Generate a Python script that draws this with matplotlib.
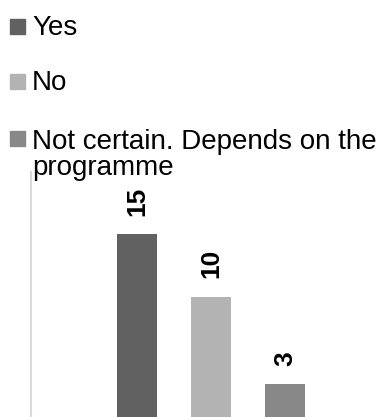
import matplotlib
matplotlib.use("Agg")
import matplotlib.pyplot as plt
from matplotlib.patches import Rectangle

categories = ["Yes", "No", "Not certain. Depends on the\nprogramme"]
values = [15, 10, 3]
colors = ["#616161", "#b3b3b3", "#888888"]

plt.rcParams["font.family"] = ["Liberation Sans", "DejaVu Sans"]

W, H = 389, 417
fig = plt.figure(figsize=(W / 100, H / 100), dpi=100)

# plot area in pixel units (top-left origin)
left_px, right_px, top_px, bottom_px = 31, 391, 172, 421
ax = fig.add_axes([left_px / W, 1 - bottom_px / H,
                   (right_px - left_px) / W, (bottom_px - top_px) / H])

positions = [-1, 0, 1]
bars = ax.bar(positions, values, width=0.54, color=colors, zorder=2)
ax.set_ylim(0, 20)
ax.set_xlim(-2.43, 2.43)

for b, v in zip(bars, values):
    ax.annotate(str(v), (b.get_x() + b.get_width() / 2, b.get_height()),
                xytext=(0, 18), textcoords="offset pixels",
                rotation=90, ha="center", va="bottom",
                fontsize=19, fontweight="bold", color="black")

for s in ["top", "right", "bottom"]:
    ax.spines[s].set_visible(False)
ax.spines["left"].set_color("#d9d9d9")
ax.spines["left"].set_linewidth(1.5)
ax.set_xticks([])
ax.set_yticks([])

# legend rows drawn at the top of the figure
baselines = [35, 90, 147]
line_gap = 28
for lab, col, base in zip(categories, colors, baselines):
    fig.patches.append(Rectangle((10 / W, 1 - (base - 1) / H), 15 / W, 15 / H,
                                 transform=fig.transFigure, color=col))
    last_base = base + (lab.count("\n")) * line_gap
    fig.text(32 / W, 1 - last_base / H, lab, fontsize=20, va="baseline",
             ha="left", linespacing=1.0, color="black")

fig.savefig("out.png", dpi=100)
